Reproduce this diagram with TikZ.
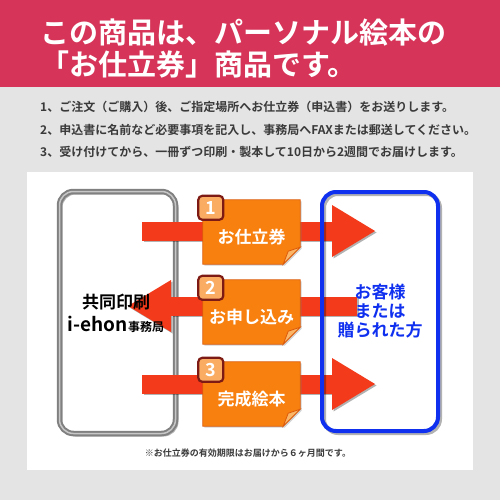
\documentclass[tikz,border=0pt]{standalone}
\usepackage[table]{xcolor}
\usepackage{tikz}
\usepackage{fontspec}
\setmainfont{Noto Sans CJK JP}[BoldFont={Noto Sans CJK JP Bold}]
\usetikzlibrary{arrows.meta,shadows}
\definecolor{headred}{HTML}{D63458}
\definecolor{pagegray}{HTML}{E4E4E4}
\definecolor{inktext}{HTML}{3A3A3A}
\definecolor{arrowred}{HTML}{F33A1A}
\definecolor{cardorange}{HTML}{F8800F}
\definecolor{cardedge}{HTML}{DC5A0A}
\definecolor{foldorange}{HTML}{FBB567}
\definecolor{badgeedge}{HTML}{7D1A14}
\definecolor{custblue}{HTML}{1030F0}

\begin{document}
\begin{tikzpicture}[x=1pt,y=-1pt,
  bigarrow/.style={draw=arrowred,line width=19pt,-{Triangle[width=52pt,length=43pt,line width=0pt]}},
  arrowshade/.style={draw=black,opacity=.3,line width=19pt,-{Triangle[width=52pt,length=43pt,line width=0pt]},transform canvas={xshift=1.5pt,yshift=-1.5pt}},
  boxshade/.style={preaction={draw=black,opacity=.3,transform canvas={xshift=2pt,yshift=-2pt}}},
  card/.style={minimum width=97pt,minimum height=64pt,inner sep=0pt},
  cardfill/.style={fill=cardorange,draw=cardedge,line width=.8pt,drop shadow={shadow xshift=1.5pt,shadow yshift=-1.5pt,opacity=.35}},
  fold/.style={fill=foldorange,draw=cardedge,line width=.8pt},
  cardtext/.style={text=white,font=\bfseries\fontsize{17}{17}\selectfont},
  badge/.style={draw=badgeedge,line width=2.2pt,rounded corners=4pt,fill=cardorange!65!white,minimum width=25pt,minimum height=24pt,inner sep=0pt,text=white,font=\bfseries\fontsize{18}{18}\selectfont},
  steptext/.style={anchor=west,text=inktext,font=\bfseries\fontsize{12}{12}\selectfont,inner sep=0pt}]
\useasboundingbox (0,0) rectangle (500,500);
\fill[pagegray] (0,0) rectangle (500,500);
\fill[headred] (0,0) rectangle (500,87);
\fill[white] (27,172) rectangle (473,470);

\node[anchor=west,text=white,font=\bfseries\fontsize{29}{29}\selectfont,inner sep=0pt] (title1) at (40,33) {この商品は、パーソナル絵本の};
\node[anchor=west,text=white,font=\bfseries\fontsize{29}{29}\selectfont,inner sep=0pt] (title2) at (40,64) {「お仕立券」商品です。};

\node[steptext] (step1) at (40,107) {1、ご注文（ご購入）後、ご指定場所へお仕立券（申込書）をお送りします。};
\node[steptext] (step2) at (40,130) {2、申込書に名前など必要事項を記入し、事務局へFAXまたは郵送してください。};
\node[steptext] (step3) at (40,152) {3、受け付けてから、一冊ずつ印刷・製本して10日から2週間でお届けします。};

\node[boxshade,draw=black!50,double=black!22,double distance=1.5pt,line width=2pt,rounded corners=14pt,minimum width=116pt,minimum height=242pt] (office) at (117.5,312.5) {};

\coordinate (from1) at (142,231);
\coordinate (to1) at (375,231);
\coordinate (from2) at (357,306);
\coordinate (to2) at (128,306);
\coordinate (from3) at (142,384);
\coordinate (to3) at (375,384);
\draw[arrowshade] (from1) -- (to1);
\draw[arrowshade] (from2) -- (to2);
\draw[arrowshade] (from3) -- (to3);
\draw[bigarrow] (from1) -- (to1);
\draw[bigarrow] (from2) -- (to2);
\draw[bigarrow] (from3) -- (to3);

\node[align=center,font=\bfseries\fontsize{17}{23}\selectfont] (officetext) at (116,313) {共同印刷\\{\fontsize{19}{23}\selectfont i-ehon}{\fontsize{12}{23}\selectfont 事務局}};

\node[boxshade,draw=custblue,line width=4pt,rounded corners=14pt,minimum width=116pt,minimum height=239pt,align=center,text=custblue,font=\bfseries\fontsize{17}{19}\selectfont] (customer) at (380,311.5) {お客様\\または\\贈られた方};

\node[card] (c1) at (251.5,232) {};
\fill[cardfill] (c1.north west) -- (c1.north east) -- ([yshift=17pt]c1.south east) -- ([xshift=-17pt]c1.south east) -- (c1.south west) -- cycle;
\filldraw[fold] ([yshift=17pt]c1.south east) -- ([xshift=-17pt]c1.south east) .. controls ([xshift=-15pt,yshift=7pt]c1.south east) .. ([xshift=-12pt,yshift=13pt]c1.south east) -- cycle;
\node[cardtext] (t1) at ([yshift=-5pt]c1.center) {お仕立券};
\node[badge] (b1) at ([xshift=8pt,yshift=-8pt]c1.north west) {1};

\node[card] (c2) at (251.5,312) {};
\fill[cardfill] (c2.north west) -- (c2.north east) -- ([yshift=17pt]c2.south east) -- ([xshift=-17pt]c2.south east) -- (c2.south west) -- cycle;
\filldraw[fold] ([yshift=17pt]c2.south east) -- ([xshift=-17pt]c2.south east) .. controls ([xshift=-15pt,yshift=7pt]c2.south east) .. ([xshift=-12pt,yshift=13pt]c2.south east) -- cycle;
\node[cardtext] (t2) at ([yshift=-5pt]c2.center) {お申し込み};
\node[badge] (b2) at ([xshift=8pt,yshift=-8pt]c2.north west) {2};

\node[card] (c3) at (251.5,394) {};
\fill[cardfill] (c3.north west) -- (c3.north east) -- ([yshift=17pt]c3.south east) -- ([xshift=-17pt]c3.south east) -- (c3.south west) -- cycle;
\filldraw[fold] ([yshift=17pt]c3.south east) -- ([xshift=-17pt]c3.south east) .. controls ([xshift=-15pt,yshift=7pt]c3.south east) .. ([xshift=-12pt,yshift=13pt]c3.south east) -- cycle;
\node[cardtext] (t3) at ([yshift=-5pt]c3.center) {完成絵本};
\node[badge] (b3) at ([xshift=8pt,yshift=-8pt]c3.north west) {3};

\node[text=inktext,font=\bfseries\fontsize{9}{9}\selectfont,inner sep=0pt] (note) at (248,453) {※お仕立券の有効期限はお届けから６ヶ月間です。};
\end{tikzpicture}
\end{document}
